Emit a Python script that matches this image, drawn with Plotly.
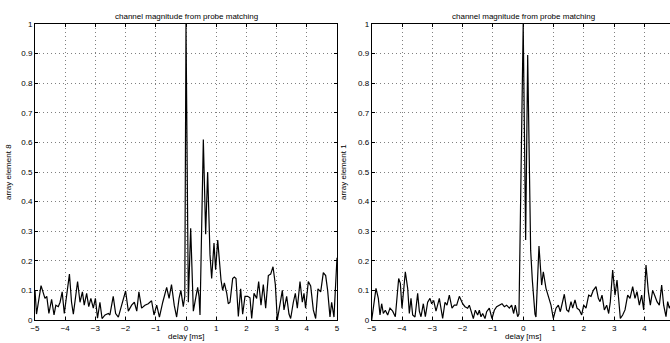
import plotly.graph_objects as go

# ---- data ----
left_delay = [-5.0, -4.95, -4.80, -4.67, -4.61, -4.54, -4.45, -4.37, -4.31, -4.23, -4.17, -4.10, -4.03,
              -3.95, -3.86, -3.79, -3.73, -3.59, -3.51, -3.43, -3.37, -3.29, -3.22, -3.15, -3.07, -3.00,
              -2.93, -2.85, -2.78, -2.68, -2.57, -2.52, -2.41, -2.33, -2.24, -2.13, -2.00, -1.91, -1.80,
              -1.71, -1.63, -1.56, -1.47, -1.36, -1.25, -1.14, -1.06, -0.97, -0.88, -0.77, -0.64, -0.56,
              -0.48, -0.39, -0.31, -0.23, -0.17, -0.09, -0.04, 0.0, 0.077, 0.155, 0.19, 0.243, 0.331,
              0.386, 0.43, 0.464, 0.574, 0.651, 0.717, 0.795, 0.85, 0.927, 0.98, 1.05, 1.159, 1.214,
              1.27, 1.35, 1.40, 1.457, 1.545, 1.60, 1.656, 1.733, 1.81, 1.876, 1.954, 2.042, 2.119,
              2.175, 2.252, 2.34, 2.406, 2.483, 2.56, 2.638, 2.726, 2.804, 2.881, 2.958, 3.024, 3.113,
              3.19, 3.245, 3.333, 3.41, 3.466, 3.554, 3.62, 3.686, 3.775, 3.852, 3.907, 3.96, 4.05,
              4.128, 4.216, 4.293, 4.37, 4.46, 4.547, 4.625, 4.69, 4.768, 4.823, 4.90, 4.989, 5.0]
left_mag = [0.10, 0.02, 0.116, 0.073, 0.08, 0.022, 0.07, 0.017, 0.05, 0.045, 0.06, 0.095, 0.022,
            0.08, 0.155, 0.06, 0.02, 0.13, 0.06, 0.095, 0.05, 0.09, 0.045, 0.073, 0.04, 0.073,
            0.006, 0.06, 0.005, 0.017, 0.022, 0.017, 0.08, 0.022, 0.01, 0.05, 0.098, 0.03, 0.05,
            0.06, 0.03, 0.095, 0.04, 0.05, 0.055, 0.065, 0.017, 0.05, 0.01, 0.06, 0.11, 0.073,
            0.12, 0.05, 0.01, 0.073, 0.10, 0.045, 0.08, 1.0, 0.06, 0.31, 0.22, 0.03, 0.08,
            0.11, 0.08, 0.017, 0.61, 0.29, 0.50, 0.22, 0.14, 0.26, 0.17, 0.27, 0.135, 0.10,
            0.125, 0.09, 0.055, 0.06, 0.14, 0.145, 0.14, 0.012, 0.105, 0.02, 0.08, 0.08, 0.075,
            0.005, 0.09, 0.073, 0.13, 0.05, 0.12, 0.04, 0.15, 0.155, 0.18, 0.12, 0.0, 0.06,
            0.10, 0.034, 0.08, 0.02, 0.005, 0.06, 0.09, 0.04, 0.13, 0.06, 0.09, 0.04, 0.13,
            0.115, 0.034, 0.005, 0.105, 0.095, 0.16, 0.15, 0.10, 0.01, 0.06, 0.01, 0.2, 0.21]

right_delay = [-5.0, -4.858, -4.781, -4.726, -4.671, -4.616, -4.55, -4.473, -4.396, -4.308, -4.22,
               -4.11, -4.055, -4.0, -3.89, -3.813, -3.758, -3.703, -3.648, -3.571, -3.483, -3.428,
               -3.373, -3.296, -3.23, -3.153, -3.076, -3.021, -2.955, -2.878, -2.768, -2.658, -2.581,
               -2.515, -2.438, -2.35, -2.273, -2.196, -2.108, -1.998, -1.921, -1.833, -1.778, -1.69,
               -1.646, -1.58, -1.503, -1.448, -1.393, -1.338, -1.261, -1.206, -1.118, -1.03, -0.953,
               -0.876, -0.788, -0.70, -0.623, -0.546, -0.458, -0.381, -0.315, -0.26, -0.183, -0.14,
               0.0, 0.081, 0.148, 0.246, 0.301, 0.389, 0.422, 0.521, 0.609, 0.664, 0.752, 0.83,
               0.917, 0.994, 1.083, 1.16, 1.225, 1.357, 1.435, 1.5, 1.578, 1.633, 1.71, 1.776,
               1.853, 1.93, 1.996, 2.073, 2.161, 2.238, 2.315, 2.403, 2.48, 2.535, 2.601, 2.678,
               2.755, 2.821, 2.876, 2.953, 3.03, 3.096, 3.151, 3.206, 3.283, 3.36, 3.448, 3.525,
               3.613, 3.69, 3.756, 3.833, 3.91, 3.976, 4.053, 4.13, 4.196, 4.273, 4.35, 4.416,
               4.493, 4.57, 4.636, 4.713, 4.768, 4.823, 5.0]
right_mag = [0.0, 0.107, 0.073, 0.017, 0.055, 0.022, 0.033, 0.017, 0.04, 0.03, 0.011,
             0.14, 0.124, 0.04, 0.163, 0.107, 0.022, 0.073, 0.017, 0.01, 0.09, 0.03,
             0.011, 0.055, 0.011, 0.06, 0.073, 0.055, 0.066, 0.03, 0.073, 0.005, 0.06,
             0.05, 0.084, 0.04, 0.05, 0.05, 0.08, 0.055, 0.045, 0.04, 0.05, 0.022,
             0.005, 0.033, 0.017, 0.033, 0.011, 0.022, 0.005, 0.028, 0.04, 0.005, 0.033,
             0.045, 0.05, 0.055, 0.045, 0.05, 0.04, 0.05, 0.022, 0.05, 0.011, 0.02,
             1.0, 0.27, 0.895, 0.236, 0.135, 0.02, 0.01, 0.25, 0.118, 0.163, 0.107, 0.08,
             0.05, 0.005, 0.04, 0.05, 0.028, 0.087, 0.034, 0.028, 0.062, 0.04, 0.068, 0.04,
             0.034, 0.017, 0.05, 0.04, 0.084, 0.08, 0.10, 0.113, 0.073, 0.062, 0.084, 0.034,
             0.05, 0.022, 0.062, 0.169, 0.084, 0.135, 0.073, 0.005, 0.017, 0.034, 0.084, 0.073,
             0.113, 0.073, 0.096, 0.05, 0.084, 0.034, 0.186, 0.096, 0.05, 0.10, 0.08, 0.062,
             0.05, 0.118, 0.05, 0.011, 0.062, 0.04, 0.08]

y_ticks = [0, 0.1, 0.2, 0.3, 0.4, 0.5, 0.6, 0.7, 0.8, 0.9, 1]
x_ticks = [-5, -4, -3, -2, -1, 0, 1, 2, 3, 4, 5]
title_text = "channel magnitude from probe matching"
x_label = "delay [ms]"
y_labels = ["array element 8", "array element 1"]

FONT = "Liberation Sans, Arial, Helvetica, sans-serif"
W, H = 670, 343

fig = go.Figure()
fig.add_trace(go.Scatter(x=left_delay, y=left_mag, mode="lines",
                         line=dict(color="black", width=1.2), xaxis="x", yaxis="y",
                         showlegend=False))
fig.add_trace(go.Scatter(x=right_delay, y=right_mag, mode="lines",
                         line=dict(color="black", width=1.2), xaxis="x2", yaxis="y2",
                         showlegend=False))

ydom = [(H - 320) / H, (H - 24) / H]
common_axis = dict(showline=True, linecolor="black", linewidth=1, ticks="inside", ticklen=3,
                   tickcolor="black", showgrid=True, gridcolor="#808080", gridwidth=1,
                   griddash="1px,3px", zeroline=False, automargin=False,
                   tickfont=dict(family=FONT, size=8, color="black"))

fig.update_layout(
    width=W, height=H, margin=dict(l=0, r=0, t=0, b=0, autoexpand=False),
    paper_bgcolor="white", plot_bgcolor="white",
    xaxis=dict(domain=[35 / W, 337 / W], range=[-5, 5], tickvals=x_ticks, mirror="ticks",
               anchor="y", **common_axis),
    yaxis=dict(domain=ydom, range=[0, 1], tickvals=y_ticks, mirror="ticks", anchor="x",
               **common_axis),
    xaxis2=dict(domain=[371.7 / W, 1.0], range=[-5, 4.845], tickvals=x_ticks, mirror="ticks",
                anchor="y2", **common_axis),
    yaxis2=dict(domain=ydom, range=[0, 1], tickvals=y_ticks, mirror=False, anchor="x2",
                **common_axis),
)

ann_font = dict(family=FONT, size=8, color="black")
annotations = []
for cx in (186 / W, 523 / W):
    annotations.append(dict(text=title_text, x=cx, y=(H - 16) / H, xref="paper", yref="paper",
                            showarrow=False, font=ann_font, xanchor="center", yanchor="middle"))
    annotations.append(dict(text=x_label, x=cx, y=(H - 336) / H, xref="paper", yref="paper",
                            showarrow=False, font=ann_font, xanchor="center", yanchor="middle"))
for lx, lab in zip((8 / W, 343 / W), y_labels):
    annotations.append(dict(text=lab, x=lx, y=(H - 172) / H, xref="paper", yref="paper",
                            showarrow=False, font=ann_font, textangle=-90,
                            xanchor="center", yanchor="middle"))
fig.update_layout(annotations=annotations)

fig.write_html("out.html", config={"displayModeBar": False},
               post_script="document.body.style.margin='0';document.body.style.overflow='hidden';")
